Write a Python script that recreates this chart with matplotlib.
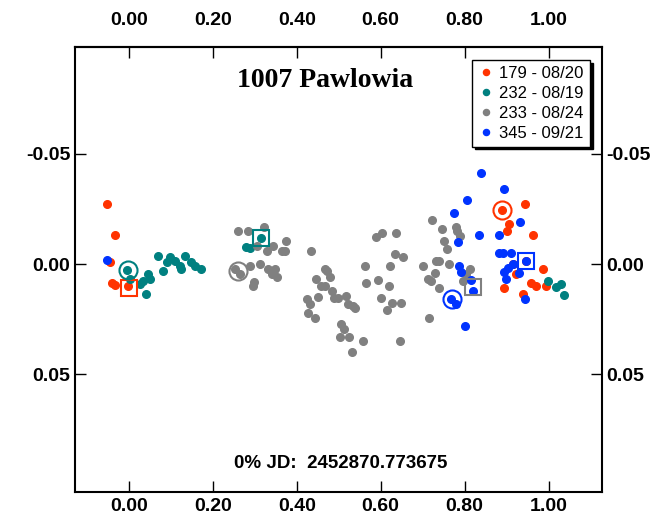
import matplotlib.pyplot as plt

plt.rcParams['font.family'] = ['Liberation Sans', 'DejaVu Sans']
plt.rcParams['axes.unicode_minus'] = False

# Session labels and colours
labels = ['179 - 08/20', '232 - 08/19', '233 - 08/24', '345 - 09/21']
colors = ['#ff3300', '#008080', '#808080', '#0033ff']

# Phase / differential magnitude per session
red_phase = [-0.052, -0.032, -0.045, -0.041, -0.032, -0.002,
             0.889, 0.945, 0.905, 0.902, 0.963, 0.986, 0.923, 0.959,
             0.969, 0.995, 0.895, 0.939, 0.947, 0.915]
red_mag = [-0.0273, -0.0130, -0.0009, 0.0088, 0.0094, 0.0100,
           -0.0247, -0.0273, -0.0182, -0.0151, -0.0132, 0.0023, 0.0045, 0.0088,
           0.0099, 0.0101, 0.0109, 0.0136, -0.0015, 0.0000]

teal_phase = [-0.005, 0.002, 0.026, 0.034, 0.046, 0.050, 0.042, 0.070,
              0.082, 0.090, 0.098, 0.110, 0.121, 0.125, 0.133, 0.149,
              0.157, 0.173, 0.280, 0.288, 0.314,
              0.998, 1.018, 1.030, 1.038]
teal_mag = [0.0027, 0.0068, 0.0091, 0.0079, 0.0045, 0.0068, 0.0136, -0.0038,
            0.0033, -0.0008, -0.0030, -0.0015, 0.0008, 0.0023, -0.0038, -0.0008,
            0.0008, 0.0023, -0.0079, -0.0071, -0.0118,
            0.0076, 0.0103, 0.0091, 0.0140]

gray_phase = [0.260, 0.284, 0.322, 0.306, 0.328, 0.344, 0.375, 0.364, 0.371,
              0.252, 0.264, 0.288, 0.312, 0.332, 0.348, 0.340, 0.352, 0.296, 0.298,
              0.435, 0.467, 0.473, 0.479, 0.447, 0.459, 0.467, 0.484, 0.451,
              0.425, 0.431, 0.490, 0.498, 0.518, 0.522, 0.534, 0.538, 0.427,
              0.443, 0.506, 0.513, 0.502, 0.524, 0.558, 0.532,
              0.590, 0.603, 0.637, 0.633, 0.653, 0.562, 0.623, 0.566, 0.594,
              0.619, 0.600, 0.628, 0.649, 0.614, 0.645,
              0.723, 0.745, 0.779, 0.783, 0.788, 0.752, 0.758, 0.733, 0.740,
              0.764, 0.702, 0.729, 0.713, 0.721, 0.739, 0.812, 0.804, 0.796,
              0.715]
gray_mag = [-0.0151, -0.0151, -0.0170, -0.0080, -0.0060, -0.0083, -0.0103, -0.0060, -0.0060,
            0.0023, 0.0045, 0.0008, 0.0000, 0.0023, 0.0023, 0.0045, 0.0060, 0.0099, 0.0083,
            -0.0058, 0.0023, 0.0030, 0.0058, 0.0068, 0.0099, 0.0099, 0.0121, 0.0149,
            0.0159, 0.0182, 0.0156, 0.0156, 0.0147, 0.0182, 0.0190, 0.0201, 0.0220,
            0.0247, 0.0273, 0.0295, 0.0329, 0.0329, 0.0349, 0.0399,
            -0.0121, -0.0141, -0.0141, -0.0045, -0.0030, 0.0008, 0.0008, 0.0088, 0.0071,
            0.0099, 0.0156, 0.0179, 0.0177, 0.0208, 0.0349,
            -0.0200, -0.0159, -0.0167, -0.0151, -0.0129, -0.0106, -0.0068, -0.0015, -0.0015,
            0.0000, 0.0008, 0.0042, 0.0068, 0.0079, 0.0109, 0.0023, 0.0045, 0.0076,
            0.0245]

blue_phase = [-0.052, 0.840, 0.805, 0.775, 0.834, 0.784, 0.786, 0.792, 0.816,
              0.820, 0.768, 0.780, 0.800, 0.893, 0.931, 0.883, 0.882, 0.891,
              0.911, 0.947, 0.915, 0.903, 0.895, 0.929, 0.899, 0.943]
blue_mag = [-0.0020, -0.0412, -0.0291, -0.0230, -0.0132, -0.0099, 0.0008, 0.0038, 0.0073,
            0.0121, 0.0159, 0.0182, 0.0280, -0.0341, -0.0190, -0.0132, -0.0050, -0.0050,
            -0.0050, -0.0015, 0.0000, 0.0018, 0.0038, 0.0041, 0.0068, 0.0159]

# Open-circle (start) and open-square (end) markers per session
circle_phase = [0.889, -0.002, 0.260, 0.771]
circle_mag = [-0.0247, 0.0025, 0.0032, 0.0159]
square_phase = [0.000, 0.314, 0.820, 0.947]
square_mag = [0.0110, -0.0118, 0.0106, -0.0015]

xticks = [0.0, 0.2, 0.4, 0.6, 0.8, 1.0]

fig = plt.figure(figsize=(6.65, 5.12), dpi=100)
ax = fig.add_axes([0.113, 0.039, 0.792, 0.869])

series = [(red_phase, red_mag), (teal_phase, teal_mag),
          (gray_phase, gray_mag), (blue_phase, blue_mag)]
for (px, py), c, lab in zip(series, colors, labels):
    ax.plot(px, py, 'o', color=c, markersize=5.5, label=lab, linestyle='none')

for i, c in enumerate(colors):
    ax.plot(circle_phase[i], circle_mag[i], 'o', mfc='none', mec=c, mew=1.5, markersize=13)
    ax.plot(square_phase[i], square_mag[i], 's', mfc='none', mec=c, mew=1.5, markersize=12)

ax.set_xlim(-0.128, 1.127)
ax.set_ylim(0.1035, -0.0985)
ax.set_xticks(xticks)
ax.set_yticks([-0.05, 0.0, 0.05])
ax.xaxis.set_major_formatter('{x:.2f}')
ax.yaxis.set_major_formatter('{x:.2f}')
ax.tick_params(direction='in', length=8, width=1, top=False, right=True,
               labelright=True, labelsize=14)
ax.tick_params(axis='x', pad=4)

# top axis with its own label padding
top = ax.secondary_xaxis('top')
top.set_xticks(xticks)
top.xaxis.set_major_formatter('{x:.2f}')
top.tick_params(direction='in', length=8, width=1, labelsize=14, pad=13)
top.spines['top'].set_linewidth(1.5)

for t in ax.get_xticklabels() + ax.get_yticklabels() + top.get_xticklabels():
    t.set_fontweight('bold')
for tick in ax.yaxis.get_major_ticks():
    tick.label2.set_fontweight('bold')
for s in ax.spines.values():
    s.set_linewidth(1.5)

ax.text(0.474, 0.926, '1007 Pawlowia', transform=ax.transAxes, ha='center', va='center',
        fontsize=20, fontweight='bold', family=['Liberation Serif', 'DejaVu Serif'])
ax.text(0.505, 0.065, '0% JD:  2452870.773675', transform=ax.transAxes, ha='center',
        va='center', fontsize=13.5, fontweight='bold')

leg = ax.legend(loc='upper right', bbox_to_anchor=(0.993, 0.99), fontsize=12,
                frameon=True, fancybox=False, shadow={'color': 'black', 'alpha': 1},
                handletextpad=0.3, handlelength=1.0, borderpad=0.35, labelspacing=0.3,
                markerscale=0.8)
leg.get_frame().set_edgecolor('black')
leg.get_frame().set_linewidth(1.0)

fig.savefig('out.png', dpi=100)
